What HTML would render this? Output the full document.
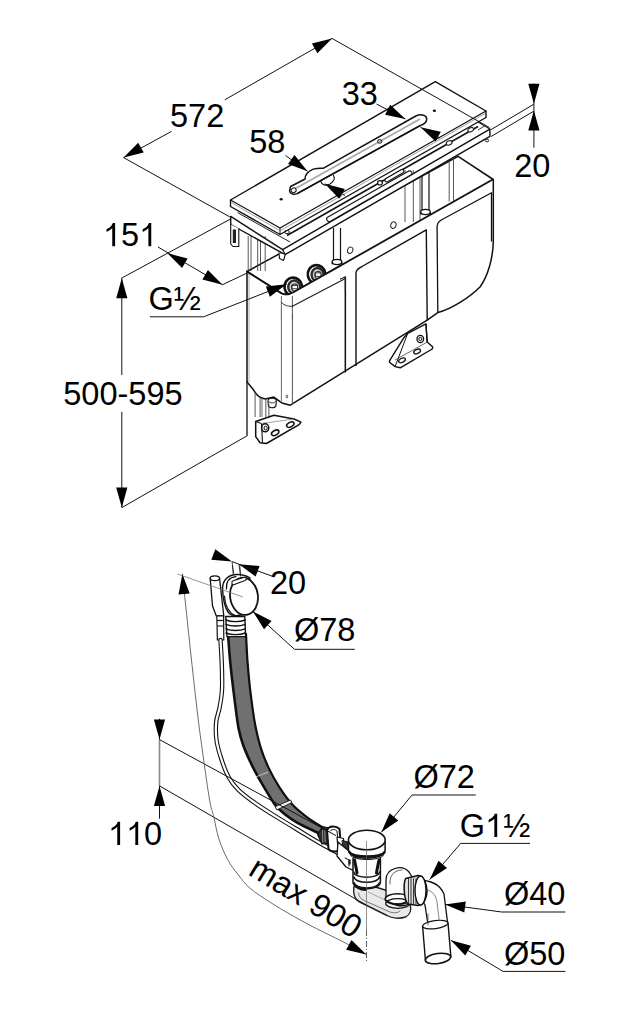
<!DOCTYPE html>
<html><head><meta charset="utf-8"><style>
html,body{margin:0;padding:0;background:#fff;}
svg{display:block;}
text{font-family:"Liberation Sans",sans-serif;fill:#000;}
</style></head><body>
<svg width="637" height="1024" viewBox="0 0 637 1024">
<rect width="637" height="1024" fill="#fff"/>
<path d="M247.0,271.5 L247.0,381.9 C249.0,384.5 252.5,388 254.5,391.3 C256,394 260,398 265.2,398.9 L271.4,397.6 L273.9,397.0 C276,398.5 279,401.5 282.7,403.3 L290.3,405.2 L427.2,320.1 L437.8,312.6 C452,309 470,297 480,287 C488,276 493,258 493.3,241.2 L493.3,179.5 L458.1,156.4 Z" fill="#fff" stroke="#111" stroke-width="1.5" stroke-linejoin="round" stroke-linecap="round" />
<line x1="293.0" y1="292.5" x2="492.7" y2="179.5" stroke="#111" stroke-width="1.8" />
<path d="M247.0,271.5 L281.0,293.0 C284,295 289,294.5 293.0,292.5" fill="none" stroke="#111" stroke-width="1.5" stroke-linejoin="round" stroke-linecap="round" />
<line x1="281.4" y1="300.0" x2="281.4" y2="401.0" stroke="#666" stroke-width="1.0" />
<line x1="292.4" y1="302.0" x2="292.4" y2="404.5" stroke="#555" stroke-width="1.0" />
<path d="M281.4,302.5 C284,305.5 289,306.8 292.4,306.3" fill="none" stroke="#333" stroke-width="1.0" stroke-linejoin="round" stroke-linecap="round" />
<path d="M292.8,304 C293,300 296,299.5 299,298.3 L345.4,276.8 L345.4,372.1" fill="none" stroke="#222" stroke-width="1.2" stroke-linejoin="round" stroke-linecap="round" />
<line x1="345.4" y1="276.8" x2="345.4" y2="372.1" stroke="#111" stroke-width="1.4" />
<path d="M356.0,365.4 L356.0,272.5 C356.5,269 359,268 362,266.5 L426.3,229.8 L427.2,320.1" fill="none" stroke="#111" stroke-width="1.4" stroke-linejoin="round" stroke-linecap="round" />
<path d="M437.8,312.6 L437.1,226 C437.5,222 440,220.6 444,218.5 L491.5,192.8 L491.5,241" fill="none" stroke="#111" stroke-width="1.3" stroke-linejoin="round" stroke-linecap="round" />
<path d="M268.0,400.5 C268,397.5 276,397.5 276.3,400.5 L276.0,405.5 C275,408.5 269,408.5 268.3,405.5 Z" fill="#fff" stroke="#111" stroke-width="1.1" stroke-linejoin="round" stroke-linecap="round" />
<path d="M268.6,401.5 C270,403.5 274.5,403.5 275.8,401.5" fill="none" stroke="#222" stroke-width="0.9" stroke-linejoin="round" stroke-linecap="round" />
<ellipse cx="286.9" cy="396.5" rx="0.8" ry="1.5" transform="rotate(0 286.9 396.5)" fill="none" stroke="#333" stroke-width="0.8"/>
<line x1="449.2" y1="158.0" x2="449.2" y2="201.5" stroke="#444" stroke-width="0.9" />
<line x1="453.5" y1="158.0" x2="453.5" y2="201.5" stroke="#444" stroke-width="0.9" />
<line x1="405.0" y1="170.0" x2="405.0" y2="222.0" stroke="#444" stroke-width="0.9" />
<line x1="413.3" y1="170.0" x2="413.3" y2="222.0" stroke="#444" stroke-width="0.9" />
<line x1="420.0" y1="170.0" x2="420.0" y2="222.0" stroke="#444" stroke-width="0.9" />
<ellipse cx="350.2" cy="250.2" rx="2.6" ry="3.3" transform="rotate(20 350.2 250.2)" fill="none" stroke="#222" stroke-width="1.0"/>
<ellipse cx="393.4" cy="225.1" rx="2.6" ry="3.3" transform="rotate(20 393.4 225.1)" fill="none" stroke="#222" stroke-width="1.0"/>
<line x1="248.2" y1="236.0" x2="248.2" y2="271.0" stroke="#444" stroke-width="0.9" />
<line x1="251.0" y1="236.0" x2="251.0" y2="271.0" stroke="#444" stroke-width="0.9" />
<line x1="257.7" y1="236.0" x2="257.7" y2="271.0" stroke="#444" stroke-width="0.9" />
<line x1="260.5" y1="236.0" x2="260.5" y2="271.0" stroke="#444" stroke-width="0.9" />
<line x1="265.2" y1="236.0" x2="265.2" y2="271.0" stroke="#444" stroke-width="0.9" />
<line x1="249.0" y1="272.5" x2="249.0" y2="383.0" stroke="#999" stroke-width="0.8" />
<line x1="247.0" y1="381.0" x2="247.0" y2="435.5" stroke="#111" stroke-width="1.3" />
<line x1="255.1" y1="392.0" x2="255.1" y2="417.0" stroke="#444" stroke-width="0.9" />
<line x1="260.1" y1="397.0" x2="260.1" y2="417.0" stroke="#444" stroke-width="0.9" />
<line x1="262.0" y1="398.0" x2="262.0" y2="417.0" stroke="#444" stroke-width="0.8" />
<line x1="265.8" y1="399.0" x2="265.8" y2="417.0" stroke="#444" stroke-width="0.9" />
<line x1="268.9" y1="404.0" x2="268.9" y2="417.0" stroke="#444" stroke-width="0.9" />
<line x1="333.5" y1="228.0" x2="333.5" y2="262.0" stroke="#111" stroke-width="1.2" />
<line x1="340.5" y1="228.0" x2="340.5" y2="262.0" stroke="#111" stroke-width="1.2" />
<ellipse cx="337.0" cy="262.0" rx="4.8" ry="2.6" transform="rotate(0 337.0 262.0)" fill="#fff" stroke="#111" stroke-width="1.3"/>
<line x1="332.2" y1="262.0" x2="332.2" y2="264.2" stroke="#111" stroke-width="1.2" />
<line x1="341.8" y1="262.0" x2="341.8" y2="264.2" stroke="#111" stroke-width="1.2" />
<line x1="422.0" y1="172.0" x2="422.0" y2="212.0" stroke="#111" stroke-width="1.2" />
<line x1="429.0" y1="172.0" x2="429.0" y2="212.0" stroke="#111" stroke-width="1.2" />
<ellipse cx="425.5" cy="212.0" rx="4.8" ry="2.6" transform="rotate(0 425.5 212.0)" fill="#fff" stroke="#111" stroke-width="1.3"/>
<line x1="420.7" y1="212.0" x2="420.7" y2="214.2" stroke="#111" stroke-width="1.2" />
<line x1="430.3" y1="212.0" x2="430.3" y2="214.2" stroke="#111" stroke-width="1.2" />
<ellipse cx="293.3" cy="287.0" rx="8.8" ry="9.4" transform="rotate(-10 293.3 287.0)" fill="#fff" stroke="#111" stroke-width="2.6"/>
<ellipse cx="294.3" cy="287.3" rx="6.0" ry="6.8" transform="rotate(-10 294.3 287.3)" fill="#dcdcdc" stroke="#2a2a2a" stroke-width="2.4"/>
<ellipse cx="294.6" cy="287.5" rx="3.2" ry="3.6" transform="rotate(-10 294.6 287.5)" fill="#fff" stroke="#333" stroke-width="1.0"/>
<rect x="292.1" y="285.4" width="5.5" height="3.4" fill="#fff" stroke="#222" stroke-width="0.9"/>
<ellipse cx="316.6" cy="274.5" rx="8.8" ry="9.4" transform="rotate(-10 316.6 274.5)" fill="#fff" stroke="#111" stroke-width="2.6"/>
<ellipse cx="317.6" cy="274.8" rx="6.0" ry="6.8" transform="rotate(-10 317.6 274.8)" fill="#dcdcdc" stroke="#2a2a2a" stroke-width="2.4"/>
<ellipse cx="317.9" cy="275.0" rx="3.2" ry="3.6" transform="rotate(-10 317.9 275.0)" fill="#fff" stroke="#333" stroke-width="1.0"/>
<rect x="315.4" y="272.9" width="5.5" height="3.4" fill="#fff" stroke="#222" stroke-width="0.9"/>
<path d="M280.0,294.5 C284,296.5 289,296 293.0,292.5 L340.0,266.0 L340.0,290.0 L281.0,320.0 Z" fill="#fff" stroke="none" stroke-width="0" stroke-linejoin="round" stroke-linecap="round" />
<path d="M247.0,271.5 L281.0,293.0 C284,295 289,294.5 293.0,292.5 L340.0,266.0" fill="none" stroke="#111" stroke-width="1.7" stroke-linejoin="round" stroke-linecap="round" />
<line x1="281.4" y1="296.0" x2="281.4" y2="320.0" stroke="#666" stroke-width="1.0" />
<line x1="292.4" y1="296.0" x2="292.4" y2="320.0" stroke="#555" stroke-width="1.0" />
<path d="M281.4,302.5 C284,305.5 289,306.8 292.4,306.3" fill="none" stroke="#333" stroke-width="1.0" stroke-linejoin="round" stroke-linecap="round" />
<path d="M292.4,306.3 L345.4,278.5 L345.4,290" fill="none" stroke="#222" stroke-width="1.2" stroke-linejoin="round" stroke-linecap="round" />
<polygon points="255.7,421.5 273.9,415.2 294.0,419.0 301.0,422.1 299.1,424.6 266.4,443.5 260.1,442.8 255.7,436.6" fill="#fff" stroke="#111" stroke-width="1.5" stroke-linejoin="round" stroke-linecap="round" />
<line x1="255.7" y1="421.5" x2="261.5" y2="423.5" stroke="#111" stroke-width="1.1" />
<line x1="261.5" y1="423.5" x2="262.5" y2="442.8" stroke="#111" stroke-width="1.1" />
<line x1="261.5" y1="423.5" x2="294.0" y2="419.0" stroke="#777" stroke-width="0.7" />
<ellipse cx="265.2" cy="427.8" rx="3.6" ry="4.0" transform="rotate(0 265.2 427.8)" fill="none" stroke="#111" stroke-width="1.5"/>
<ellipse cx="265.6" cy="428.0" rx="1.6" ry="1.9" transform="rotate(0 265.6 428.0)" fill="none" stroke="#111" stroke-width="1.0"/>
<ellipse cx="275.2" cy="432.8" rx="4.0" ry="2.3" transform="rotate(-28 275.2 432.8)" fill="none" stroke="#111" stroke-width="1.5"/>
<ellipse cx="290.3" cy="424.6" rx="4.0" ry="2.3" transform="rotate(-28 290.3 424.6)" fill="none" stroke="#111" stroke-width="1.5"/>
<polygon points="389.5,360.9 403.9,337.7 407.7,333.3 425.9,323.9 427.2,342.1 432.8,347.1 432.2,349.0 400.2,367.8 395.1,366.6 389.5,362.2" fill="#fff" stroke="#111" stroke-width="1.4" stroke-linejoin="round" stroke-linecap="round" />
<line x1="407.7" y1="333.3" x2="395.1" y2="366.6" stroke="#111" stroke-width="1.0" />
<line x1="427.2" y1="342.1" x2="395.1" y2="360.0" stroke="#444" stroke-width="0.8" />
<ellipse cx="420.3" cy="339.0" rx="3.3" ry="3.6" transform="rotate(0 420.3 339.0)" fill="none" stroke="#111" stroke-width="1.3"/>
<ellipse cx="420.3" cy="339.0" rx="1.5" ry="1.7" transform="rotate(0 420.3 339.0)" fill="none" stroke="#111" stroke-width="1.0"/>
<ellipse cx="417.1" cy="351.5" rx="3.6" ry="2.0" transform="rotate(-25 417.1 351.5)" fill="none" stroke="#111" stroke-width="1.3"/>
<ellipse cx="402.0" cy="360.3" rx="3.6" ry="2.0" transform="rotate(-25 402.0 360.3)" fill="none" stroke="#111" stroke-width="1.3"/>
<line x1="426.0" y1="323.9" x2="427.2" y2="342.0" stroke="#111" stroke-width="1.2" />
<path d="M230.7,216.4 L282.6,249.6 L489.9,129.1 L489.9,136.3 L285.1,254.6 L230.7,224.5 Z" fill="#fff" stroke="#111" stroke-width="1.4" stroke-linejoin="round" stroke-linecap="round" />
<line x1="282.6" y1="249.6" x2="285.1" y2="254.6" stroke="#111" stroke-width="1.2" />
<line x1="237.6" y1="212.6" x2="290.0" y2="242.0" stroke="#222" stroke-width="1.0" />
<line x1="287.0" y1="235.5" x2="478.0" y2="126.5" stroke="#111" stroke-width="1.5" />
<polyline points="489.9,129.1 476.0,120.8" fill="none" stroke="#111" stroke-width="1.1" stroke-linejoin="round" stroke-linecap="round" />
<line x1="484.9" y1="125.9" x2="478.0" y2="129.9" stroke="#222" stroke-width="0.9" />
<ellipse cx="470.7" cy="129.7" rx="3.0" ry="2.0" transform="rotate(-25 470.7 129.7)" fill="#fff" stroke="#222" stroke-width="1.1"/>
<ellipse cx="449.2" cy="142.9" rx="3.0" ry="2.0" transform="rotate(-25 449.2 142.9)" fill="#fff" stroke="#222" stroke-width="1.1"/>
<path d="M328.0,216.9 L407.9,171.4 C411,169.8 413.5,173.5 410.8,175.0 L330.5,221.2 C327.5,222.8 325.0,218.7 328.0,216.9 Z" fill="#fff" stroke="#111" stroke-width="1.1" stroke-linejoin="round" stroke-linecap="round" />
<ellipse cx="380.0" cy="182.8" rx="2.4" ry="2.2" transform="rotate(0 380.0 182.8)" fill="#fff" stroke="#111" stroke-width="1.2"/>
<path d="M386.0,178.5 L401.0,169.8 C403.5,168.5 405,171.5 403.0,172.8 L388.0,181.5 C385.5,183 383.5,180 386.0,178.5 Z" fill="#fff" stroke="#111" stroke-width="1.1" stroke-linejoin="round" stroke-linecap="round" />
<polyline points="279.0,253.0 279.5,258.5 283.5,260.5 285.2,255.0" fill="#fff" stroke="#111" stroke-width="1.1" stroke-linejoin="round" stroke-linecap="round" />
<polyline points="230.7,224.5 230.7,244.0 233.0,246.5 238.8,246.5 238.8,228.5" fill="#fff" stroke="#111" stroke-width="1.1" stroke-linejoin="round" stroke-linecap="round" />
<rect x="232.8" y="229.5" width="3.2" height="13.5" fill="#222"/>
<ellipse cx="487.0" cy="140.5" rx="1.8" ry="1.3" transform="rotate(0 487.0 140.5)" fill="none" stroke="#222" stroke-width="1.0"/>
<path d="M230.5,200.0 L435.3,81.6 L486.0,111.0 L486.0,117.5 L280.0,234.5 L230.5,206.5 Z" fill="#fff" stroke="#111" stroke-width="1.4" stroke-linejoin="round" stroke-linecap="round" />
<polyline points="230.5,200.0 280.0,228.0 486.0,111.0" fill="none" stroke="#111" stroke-width="1.2" stroke-linejoin="round" stroke-linecap="round" />
<line x1="280.0" y1="228.0" x2="280.0" y2="234.5" stroke="#111" stroke-width="1.0" />
<polyline points="231.5,202.6 280.0,230.8 485.0,113.6" fill="none" stroke="#777" stroke-width="0.7" stroke-linejoin="round" stroke-linecap="round" />
<ellipse cx="281.2" cy="199.3" rx="1.6" ry="1.3" transform="rotate(0 281.2 199.3)" fill="#111" stroke="none" stroke-width="0"/>
<ellipse cx="434.4" cy="110.8" rx="1.6" ry="1.3" transform="rotate(0 434.4 110.8)" fill="#111" stroke="none" stroke-width="0"/>
<ellipse cx="287.0" cy="232.0" rx="2.5" ry="1.6" transform="rotate(0 287.0 232.0)" fill="none" stroke="#222" stroke-width="1.0"/>
<path d="M321.0,181.5 C321.5,185 326,186 330,184 C334,181.5 335,178 333.5,175.5" fill="#fff" stroke="#111" stroke-width="1.2" stroke-linejoin="round" stroke-linecap="round" />
<path d="M290.6,186.5 L305.2,179.0 C304.5,175.5 308,171 313.2,169.1 C316,168.3 320,168.1 323.6,168.2 L415.8,116.0 C421,113.5 427.5,115 426.6,120.0 C426,123 423.5,124.5 420.5,125.4 L297.2,193.6 C293,195.5 289,193 289.7,190.0 C290,188.5 290.3,187.2 290.6,186.5 Z" fill="#fff" stroke="#111" stroke-width="1.5" stroke-linejoin="round" stroke-linecap="round" />
<line x1="296.0" y1="188.2" x2="420.0" y2="119.0" stroke="#aaa" stroke-width="1.8" />
<line x1="297.2" y1="193.6" x2="420.5" y2="125.4" stroke="#111" stroke-width="1.6" />
<ellipse cx="293.6" cy="190.3" rx="2.6" ry="2.3" transform="rotate(-30 293.6 190.3)" fill="#fff" stroke="#111" stroke-width="1.0"/>
<ellipse cx="379.7" cy="141.4" rx="2.2" ry="1.8" transform="rotate(0 379.7 141.4)" fill="none" stroke="#111" stroke-width="1.0"/>
<line x1="123.6" y1="157.6" x2="171.5" y2="131.4" stroke="#111" stroke-width="1.0" />
<line x1="224.8" y1="99.8" x2="332.0" y2="38.4" stroke="#111" stroke-width="1.0" />
<polygon points="123.6,157.6 143.7,152.5 138.2,142.8" fill="#000"/>
<polygon points="332.0,38.4 311.9,43.5 317.4,53.2" fill="#000"/>
<text x="170.0" y="126.5" font-size="32.5" text-anchor="start">572</text>
<line x1="123.6" y1="157.6" x2="229.8" y2="216.9" stroke="#111" stroke-width="1.0" />
<line x1="332.0" y1="38.4" x2="489.5" y2="127.6" stroke="#111" stroke-width="1.0" />
<text x="341.8" y="105.1" font-size="32.5" text-anchor="start">33</text>
<line x1="376.5" y1="104.0" x2="405.4" y2="119.0" stroke="#111" stroke-width="1.0" />
<polygon points="405.4,119.0 390.2,104.8 385.1,114.8" fill="#000"/>
<polygon points="420.5,127.3 435.6,141.6 440.8,131.7" fill="#000"/>
<line x1="420.5" y1="127.3" x2="440.0" y2="138.0" stroke="#111" stroke-width="1.0" />
<text x="249.3" y="153.4" font-size="32.5" text-anchor="start">58</text>
<line x1="285.5" y1="155.5" x2="307.5" y2="171.2" stroke="#111" stroke-width="1.0" />
<polygon points="307.5,171.2 294.5,155.0 288.0,164.1" fill="#000"/>
<polygon points="324.8,183.8 339.2,198.7 344.9,189.1" fill="#000"/>
<line x1="324.8" y1="183.8" x2="345.0" y2="195.5" stroke="#111" stroke-width="1.0" />
<line x1="533.9" y1="83.5" x2="533.9" y2="110.6" stroke="#111" stroke-width="1.0" />
<line x1="533.9" y1="110.6" x2="533.9" y2="147.7" stroke="#111" stroke-width="1.0" />
<polygon points="533.9,103.7 539.5,83.7 528.3,83.7" fill="#000"/>
<polygon points="533.9,110.6 528.3,130.6 539.5,130.6" fill="#000"/>
<text x="514.2" y="176.7" font-size="32.5" text-anchor="start">20</text>
<line x1="533.9" y1="104.2" x2="491.1" y2="129.6" stroke="#111" stroke-width="1.0" />
<line x1="533.9" y1="111.1" x2="491.1" y2="136.5" stroke="#111" stroke-width="1.0" />
<polygon points="115.11,246.30 112.26,246.30 112.26,228.08 110.41,229.76 106.54,232.00 106.54,229.24 109.66,227.45 111.61,225.50 112.75,223.03 115.11,223.03" fill="#000"/>
<text x="121.1" y="246.3" font-size="32.5">5</text>
<polygon points="151.25,246.30 148.40,246.30 148.40,228.08 146.55,229.76 142.68,232.00 142.68,229.24 145.80,227.45 147.75,225.50 148.89,223.03 151.25,223.03" fill="#000"/>
<line x1="158.0" y1="247.0" x2="222.5" y2="284.7" stroke="#111" stroke-width="1.0" />
<polygon points="167.5,253.3 182.1,268.1 187.6,258.4" fill="#000"/>
<polygon points="222.5,284.7 207.9,269.9 202.4,279.6" fill="#000"/>
<line x1="230.5" y1="219.0" x2="121.5" y2="278.2" stroke="#111" stroke-width="1.0" />
<line x1="222.5" y1="284.7" x2="247.6" y2="272.8" stroke="#111" stroke-width="1.0" />
<text x="148.5" y="310.0" font-size="32.5" text-anchor="start">G½</text>
<line x1="150.0" y1="316.8" x2="203.6" y2="316.8" stroke="#111" stroke-width="1.0" />
<line x1="203.6" y1="316.8" x2="286.5" y2="284.3" stroke="#111" stroke-width="1.0" />
<polygon points="286.5,284.3 265.8,286.4 269.9,296.8" fill="#000"/>
<line x1="121.8" y1="278.2" x2="121.8" y2="375.0" stroke="#111" stroke-width="1.0" />
<line x1="121.8" y1="411.8" x2="121.8" y2="507.6" stroke="#111" stroke-width="1.0" />
<polygon points="121.8,278.2 116.2,298.2 127.4,298.2" fill="#000"/>
<polygon points="121.8,507.6 127.4,487.6 116.2,487.6" fill="#000"/>
<text x="63.3" y="405.0" font-size="32.5" text-anchor="start">500-595</text>
<line x1="121.8" y1="507.6" x2="247.6" y2="435.5" stroke="#111" stroke-width="1.0" />
<path d="M228.0,634.0 C228.4,638.8 229.3,652.8 230.3,662.8 C231.3,672.8 232.5,683.3 233.9,694.2 C235.3,705.1 236.9,719.4 238.5,728.0 C240.1,736.6 241.1,739.4 243.5,746.0 C245.9,752.6 249.6,760.5 253.0,767.4 C256.4,774.2 260.3,780.9 264.0,787.1 C267.7,793.3 271.6,800.2 275.0,804.7 C278.4,809.2 280.8,811.0 284.5,814.0 C288.2,817.0 291.8,819.6 297.5,822.8 C303.2,826.0 315.3,831.5 318.9,833.3 L323.3,827.8 C320.7,826.1 313.0,821.8 307.9,817.9 C302.8,814.0 297.3,809.8 292.5,804.7 C287.7,799.6 283.3,793.3 279.3,787.1 C275.3,780.9 271.5,774.0 268.4,767.4 C265.3,760.8 262.9,754.7 260.7,747.6 C258.5,740.5 256.9,733.9 255.2,725.0 C253.5,716.1 252.0,704.6 250.7,694.2 C249.4,683.8 248.4,672.8 247.6,662.8 C246.8,652.8 246.3,638.8 246.0,634.0 Z" fill="#707070" stroke="#111" stroke-width="1.0" stroke-linejoin="round" stroke-linecap="round" />
<path d="M228.0,634.0 C228.4,638.8 229.3,652.8 230.3,662.8 C231.3,672.8 232.5,683.3 233.9,694.2 C235.3,705.1 236.9,719.4 238.5,728.0 C240.1,736.6 241.1,739.4 243.5,746.0 C245.9,752.6 249.6,760.5 253.0,767.4 C256.4,774.2 260.3,780.9 264.0,787.1 C267.7,793.3 271.6,800.2 275.0,804.7 C278.4,809.2 280.8,811.0 284.5,814.0 C288.2,817.0 291.8,819.6 297.5,822.8 C303.2,826.0 315.3,831.5 318.9,833.3" fill="none" stroke="#111" stroke-width="2.6" stroke-linejoin="round" stroke-linecap="round" />
<path d="M246.0,634.0 C246.3,638.8 246.8,652.8 247.6,662.8 C248.4,672.8 249.4,683.8 250.7,694.2 C252.0,704.6 253.5,716.1 255.2,725.0 C256.9,733.9 258.5,740.5 260.7,747.6 C262.9,754.7 265.3,760.8 268.4,767.4 C271.5,774.0 275.3,780.9 279.3,787.1 C283.3,793.3 287.7,799.6 292.5,804.7 C297.3,809.8 302.8,814.0 307.9,817.9 C313.0,821.8 320.7,826.1 323.3,827.8" fill="none" stroke="#111" stroke-width="2.2" stroke-linejoin="round" stroke-linecap="round" />
<path d="M237.5,640.0 C237.8,646.7 238.4,665.8 239.5,680.0 C240.6,694.2 241.9,712.3 244.0,725.0 C246.1,737.7 248.3,746.5 252.0,756.0 C255.7,765.5 260.7,773.7 266.0,782.0 C271.3,790.3 277.5,799.3 284.0,806.0 C290.5,812.7 301.5,819.3 305.0,822.0" fill="none" stroke="#6e6e6e" stroke-width="0.6" stroke-linejoin="round" stroke-linecap="round" />
<path d="M275.5,806.5 L290.5,800.0 L291.8,802.6 L277.2,809.8 Z" fill="#f2f2f2" stroke="#111" stroke-width="0.9" stroke-linejoin="round" stroke-linecap="round" />
<line x1="255.6" y1="777.0" x2="268.0" y2="772.2" stroke="#cfcfcf" stroke-width="0.9" />
<path d="M225.7,616.5 L244.8,616.5 L245.6,636.6 L227.0,636.6 Z" fill="#fff" stroke="#111" stroke-width="1.4" stroke-linejoin="round" stroke-linecap="round" />
<path d="M226.0,620.0 C231,622.2 240,622.2 245.2,620.0" fill="none" stroke="#111" stroke-width="1.4" stroke-linejoin="round" stroke-linecap="round" />
<path d="M226.0,624.4 C231,626.6 240,626.6 245.2,624.4" fill="none" stroke="#111" stroke-width="1.4" stroke-linejoin="round" stroke-linecap="round" />
<path d="M226.0,628.8 C231,631.0 240,631.0 245.2,628.8" fill="none" stroke="#111" stroke-width="1.4" stroke-linejoin="round" stroke-linecap="round" />
<path d="M226.0,633.0 C231,635.2 240,635.2 245.2,633.0" fill="none" stroke="#111" stroke-width="1.4" stroke-linejoin="round" stroke-linecap="round" />
<path d="M210.2,578.5 L212.5,606 L216.3,616 L223.8,616 L222.0,600 L219.6,578.5" fill="#fff" stroke="#111" stroke-width="1.3" stroke-linejoin="round" stroke-linecap="round" />
<ellipse cx="214.9" cy="578.3" rx="4.7" ry="2.4" transform="rotate(0 214.9 578.3)" fill="#fff" stroke="#111" stroke-width="1.3"/>
<path d="M216.8,615.8 L217.4,640 L223.8,640 L223.6,615.8 Z" fill="#fff" stroke="#111" stroke-width="1.2" stroke-linejoin="round" stroke-linecap="round" />
<line x1="217.0" y1="620.5" x2="223.7" y2="620.5" stroke="#111" stroke-width="1.2" />
<line x1="217.2" y1="626.0" x2="223.7" y2="626.0" stroke="#111" stroke-width="1.0" />
<path d="M222.6,590 C222,580 228,575 236,574.5 C242,574.2 247,576 250,578 L247,612 C240,617 232,617 228,612 C224,606 223,598 222.6,590 Z" fill="#fff" stroke="#111" stroke-width="1.4" stroke-linejoin="round" stroke-linecap="round" />
<path d="M226.5,589 C226,581 230,577.2 236,576.7" fill="none" stroke="#111" stroke-width="1.2" stroke-linejoin="round" stroke-linecap="round" />
<path d="M224.5,596 C225,606 229,613 236,616" fill="none" stroke="#111" stroke-width="1.1" stroke-linejoin="round" stroke-linecap="round" />
<ellipse cx="244.0" cy="596.3" rx="13.9" ry="18.7" transform="rotate(-8 244.0 596.3)" fill="#fff" stroke="#111" stroke-width="1.8"/>
<path d="M233.2,580.8 L243.8,577.4 C246.2,576.8 247.2,579.6 245.0,580.6 L234.4,584.6 C231.8,585.4 230.8,581.8 233.2,580.8 Z" fill="#fff" stroke="#111" stroke-width="1.1" stroke-linejoin="round" stroke-linecap="round" />
<line x1="232.3" y1="565.0" x2="233.2" y2="574.4" stroke="#333" stroke-width="0.8" />
<line x1="239.8" y1="565.0" x2="240.8" y2="576.3" stroke="#333" stroke-width="0.8" />
<path d="M220.5,640.0 C220.7,644.2 221.6,656.7 221.8,665.0 C222.1,673.3 222.4,682.8 222.0,690.0 C221.6,697.2 220.5,702.7 219.5,708.0 C218.5,713.3 216.7,716.7 216.2,722.0 C215.7,727.3 215.7,734.0 216.5,740.0 C217.3,746.0 219.0,751.8 221.0,758.0 C223.0,764.2 225.6,771.7 228.5,777.0 C231.4,782.3 234.1,785.7 238.5,790.0 C242.9,794.3 248.9,798.7 255.0,803.0 C261.1,807.3 268.1,811.7 275.0,816.0 C281.9,820.3 289.3,824.7 296.5,829.0 C303.7,833.3 311.2,838.1 318.0,842.0 C324.8,845.9 332.5,850.0 337.0,852.5 C341.5,855.0 343.7,856.2 345.0,857.0" fill="none" stroke="#111" stroke-width="4.4" stroke-linejoin="round" stroke-linecap="round" />
<path d="M220.5,640.0 C220.7,644.2 221.6,656.7 221.8,665.0 C222.1,673.3 222.4,682.8 222.0,690.0 C221.6,697.2 220.5,702.7 219.5,708.0 C218.5,713.3 216.7,716.7 216.2,722.0 C215.7,727.3 215.7,734.0 216.5,740.0 C217.3,746.0 219.0,751.8 221.0,758.0 C223.0,764.2 225.6,771.7 228.5,777.0 C231.4,782.3 234.1,785.7 238.5,790.0 C242.9,794.3 248.9,798.7 255.0,803.0 C261.1,807.3 268.1,811.7 275.0,816.0 C281.9,820.3 289.3,824.7 296.5,829.0 C303.7,833.3 311.2,838.1 318.0,842.0 C324.8,845.9 332.5,850.0 337.0,852.5 C341.5,855.0 343.7,856.2 345.0,857.0" fill="none" stroke="#fff" stroke-width="2.2" stroke-linejoin="round" stroke-linecap="round" />
<path d="M317.5,834.5 L322.5,826.5 L329.0,828.0 L330.0,843.0 L322.0,844.0 Z" fill="#2a2a2a" stroke="#111" stroke-width="1.2" stroke-linejoin="round" stroke-linecap="round" />
<line x1="322.5" y1="830.0" x2="322.9" y2="842.5" stroke="#aaa" stroke-width="0.8" />
<line x1="324.8" y1="830.0" x2="325.2" y2="842.5" stroke="#aaa" stroke-width="0.8" />
<line x1="327.1" y1="830.0" x2="327.5" y2="842.5" stroke="#aaa" stroke-width="0.8" />
<path d="M327.0,830.0 C329,825.5 336,825.5 339.5,829.0 L341.0,848.0 C338.5,852.5 331,852.5 328.5,849.0 Z" fill="#fff" stroke="#111" stroke-width="2.0" stroke-linejoin="round" stroke-linecap="round" />
<path d="M330.0,831.0 C332,829 335,829 337,831 L338.5,847.5" fill="none" stroke="#111" stroke-width="1.0" stroke-linejoin="round" stroke-linecap="round" />
<path d="M337.0,837.0 L343.5,838.5 L344.0,850.0 L338.0,849.0 Z" fill="#fff" stroke="#111" stroke-width="1.2" stroke-linejoin="round" stroke-linecap="round" />
<path d="M342.5,840.5 L348.0,842.0 L349.0,851.5 L343.5,851.0 Z" fill="#333" stroke="#111" stroke-width="1.0" stroke-linejoin="round" stroke-linecap="round" />
<path d="M338,842 L350,852 L356.1,858 L356.1,871.8 L346,867 L337,856 Z" fill="#fff" stroke="#111" stroke-width="1.3" stroke-linejoin="round" stroke-linecap="round" />
<path d="M345,858 L349,860 L349,866" fill="none" stroke="#111" stroke-width="1.0" stroke-linejoin="round" stroke-linecap="round" />
<rect x="348.6" y="859.5" width="2" height="5" fill="#111"/>
<path d="M353.8,887 C353.2,893 354.5,899 358.8,901.5 L387.0,915.5 C392,918.5 400,919 405.5,917 C410,915 411.5,910 410.3,905 L404,896 L366,884 Z" fill="#e9e9e9" stroke="#222" stroke-width="1.4" stroke-linejoin="round" stroke-linecap="round" />
<path d="M358.5,893 C359,897 361,899 364,900.5 L390,912 C394,913.5 398,913 400,911" fill="none" stroke="#666" stroke-width="0.9" stroke-linejoin="round" stroke-linecap="round" />
<line x1="368.0" y1="892.0" x2="396.0" y2="905.0" stroke="#888" stroke-width="0.7" />
<path d="M353.0,858.5 L353.0,882 C353,891 380.4,891 380.4,882 L380.4,858.5" fill="#fff" stroke="#111" stroke-width="1.5" stroke-linejoin="round" stroke-linecap="round" />
<path d="M354.0,872 C354,879 379.4,879 379.4,872" fill="none" stroke="#111" stroke-width="1.4" stroke-linejoin="round" stroke-linecap="round" />
<path d="M354.0,877 C355,884 378.4,884 379.4,877" fill="none" stroke="#111" stroke-width="1.6" stroke-linejoin="round" stroke-linecap="round" />
<path d="M354.0,882.5 C356,889.5 377.4,889.5 379.4,882.5" fill="none" stroke="#111" stroke-width="1.2" stroke-linejoin="round" stroke-linecap="round" />
<path d="M354.5,860 C355.5,865 356.5,869 357.0,873" fill="none" stroke="#111" stroke-width="3.0" stroke-linejoin="round" stroke-linecap="round" />
<path d="M379.0,860 C378.0,865 377.0,869 376.5,873" fill="none" stroke="#111" stroke-width="3.0" stroke-linejoin="round" stroke-linecap="round" />
<path d="M354.0,884 C356,888 360,889.5 366,890" fill="none" stroke="#111" stroke-width="2.2" stroke-linejoin="round" stroke-linecap="round" />
<path d="M348.5,842 L348.5,850 C348.5,861 385.1,861 385.1,850 L385.1,842" fill="#fff" stroke="#111" stroke-width="1.5" stroke-linejoin="round" stroke-linecap="round" />
<path d="M349.5,852 C352,858 382,858 384.5,852" fill="none" stroke="#111" stroke-width="2.4" stroke-linejoin="round" stroke-linecap="round" />
<path d="M350.5,855.5 C354,861 380,861 383.5,855.5" fill="none" stroke="#111" stroke-width="1.0" stroke-linejoin="round" stroke-linecap="round" />
<ellipse cx="366.8" cy="840.0" rx="18.4" ry="9.8" transform="rotate(0 366.8 840.0)" fill="#fff" stroke="#111" stroke-width="1.6"/>
<path d="M386,897 L386,880 C386,868 402,864 409,872 L414,880 L410,903 C404,908 390,906 386,897 Z" fill="#fff" stroke="#111" stroke-width="1.3" stroke-linejoin="round" stroke-linecap="round" />
<ellipse cx="397.7" cy="899.0" rx="12.5" ry="5.2" transform="rotate(0 397.7 899.0)" fill="#fff" stroke="#111" stroke-width="1.6"/>
<ellipse cx="397.7" cy="903.5" rx="12.0" ry="4.8" transform="rotate(0 397.7 903.5)" fill="none" stroke="#111" stroke-width="1.2"/>
<path d="M387,900.5 C392,905 402,905 407,901" fill="none" stroke="#111" stroke-width="1.2" stroke-linejoin="round" stroke-linecap="round" />
<path d="M390,884 C389,875 395,870 402,870" fill="none" stroke="#555" stroke-width="0.9" stroke-linejoin="round" stroke-linecap="round" />
<path d="M417,880 C430,880 440,884 444,894 L447.5,922 L428,925 L425,905 C423,900 420,901 417,901 Z" fill="#fff" stroke="#111" stroke-width="1.3" stroke-linejoin="round" stroke-linecap="round" />
<path d="M421,889 C432,889 436,895 437,902 L439.5,923" fill="none" stroke="#666" stroke-width="0.8" stroke-linejoin="round" stroke-linecap="round" />
<path d="M405.6,878.5 L418,875.5 C424,876 427,884 427,891 C427,898 424,905 418,905.5 L408,904 C404,900 403,884 405.6,878.5 Z" fill="#ddd" stroke="#111" stroke-width="1.5" stroke-linejoin="round" stroke-linecap="round" />
<line x1="408.5" y1="878.3" x2="408.5" y2="904.2" stroke="#222" stroke-width="0.9" />
<line x1="411.0" y1="878.3" x2="411.0" y2="904.2" stroke="#222" stroke-width="0.9" />
<line x1="413.5" y1="878.3" x2="413.5" y2="904.2" stroke="#222" stroke-width="0.9" />
<line x1="416.0" y1="878.3" x2="416.0" y2="904.2" stroke="#222" stroke-width="0.9" />
<ellipse cx="420.5" cy="890.5" rx="5.5" ry="14.5" transform="rotate(0 420.5 890.5)" fill="#fff" stroke="#111" stroke-width="1.4"/>
<path d="M422.6,926.2 L448.0,923.0 L450.9,957.0 L425.4,960.0 Z" fill="#fff" stroke="#111" stroke-width="1.4" stroke-linejoin="round" stroke-linecap="round" />
<ellipse cx="438.0" cy="958.5" rx="12.8" ry="5.0" transform="rotate(-8 438.0 958.5)" fill="#fff" stroke="#111" stroke-width="1.5"/>
<ellipse cx="435.3" cy="924.6" rx="12.8" ry="4.0" transform="rotate(-8 435.3 924.6)" fill="#fff" stroke="#111" stroke-width="1.2"/>
<path d="M428,914 L428,925" fill="none" stroke="#444" stroke-width="0.8" stroke-linejoin="round" stroke-linecap="round" />
<line x1="232.0" y1="561.6" x2="238.9" y2="564.2" stroke="#111" stroke-width="1.0" />
<polygon points="232.0,561.6 215.3,549.3 211.3,559.7" fill="#000"/>
<polygon points="238.9,564.2 255.6,576.6 259.6,566.1" fill="#000"/>
<line x1="238.9" y1="564.2" x2="272.5" y2="576.3" stroke="#111" stroke-width="1.0" />
<line x1="232.0" y1="561.6" x2="233.7" y2="573.7" stroke="#111" stroke-width="0.8" />
<line x1="238.9" y1="564.2" x2="240.6" y2="576.3" stroke="#111" stroke-width="0.8" />
<text x="270.0" y="593.8" font-size="32.5" text-anchor="start">20</text>
<text x="294.0" y="641.4" font-size="32.5" text-anchor="start">Ø78</text>
<line x1="294.5" y1="649.3" x2="354.8" y2="649.3" stroke="#111" stroke-width="1.0" />
<line x1="294.5" y1="649.3" x2="253.0" y2="611.6" stroke="#111" stroke-width="1.0" />
<polygon points="253.0,611.6 264.0,629.2 271.6,620.9" fill="#000"/>
<line x1="159.5" y1="718.8" x2="159.5" y2="739.6" stroke="#111" stroke-width="1.0" />
<line x1="159.5" y1="785.9" x2="159.5" y2="818.7" stroke="#111" stroke-width="1.0" />
<line x1="159.5" y1="739.6" x2="159.5" y2="785.9" stroke="#888" stroke-width="1.6" />
<polygon points="159.5,739.6 165.1,719.6 153.9,719.6" fill="#000"/>
<polygon points="159.5,785.9 153.9,805.9 165.1,805.9" fill="#000"/>
<polygon points="120.11,845.00 117.26,845.00 117.26,826.78 115.41,828.46 111.54,830.70 111.54,827.94 114.66,826.15 116.61,824.20 117.75,821.73 120.11,821.73" fill="#000"/>
<polygon points="138.18,845.00 135.33,845.00 135.33,826.78 133.48,828.46 129.61,830.70 129.61,827.94 132.73,826.15 134.68,824.20 135.82,821.73 138.18,821.73" fill="#000"/>
<text x="144.1" y="845.0" font-size="32.5">0</text>
<line x1="159.5" y1="739.6" x2="336.0" y2="835.6" stroke="#111" stroke-width="1.0" />
<line x1="159.5" y1="785.9" x2="366.0" y2="905.0" stroke="#111" stroke-width="1.0" />
<path d="M182.4,574.1 C183.5,584.6 186.6,614.4 189.0,637.0 C191.4,659.6 194.8,690.3 197.1,710.0 C199.4,729.7 200.9,740.0 203.0,755.0 C205.1,770.0 207.8,789.9 209.6,800.0 C211.3,810.1 211.9,809.2 213.5,815.7 C215.1,822.2 216.6,831.9 219.0,839.2 C221.4,846.5 224.5,853.8 227.7,859.7 C230.9,865.6 234.3,869.8 238.0,874.5 C241.7,879.2 244.6,883.6 250.0,888.2 C255.4,892.9 263.6,898.0 270.4,902.4 C277.2,906.8 284.0,910.8 290.8,914.7 C297.6,918.6 304.4,922.3 311.2,925.9 C318.0,929.5 325.8,933.2 331.6,936.1 C337.4,939.0 340.1,940.2 345.9,943.3 C351.7,946.4 362.9,952.6 366.3,954.5" fill="none" stroke="#6a6a6a" stroke-width="1.0" stroke-linejoin="round" stroke-linecap="round" />
<polygon points="182.4,574.1 178.5,594.5 189.7,593.6" fill="#000"/>
<polygon points="366.3,954.5 351.5,940.0 346.1,949.8" fill="#000"/>
<text x="247.0" y="874.0" font-size="32.5" text-anchor="start" transform="rotate(31.5 247.0 874.0)">max 900</text>
<line x1="366.5" y1="841.0" x2="366.5" y2="930.0" stroke="#666" stroke-width="0.7" />
<line x1="366.5" y1="930.0" x2="366.5" y2="962.0" stroke="#333" stroke-width="0.8" stroke-dasharray="6,2,1,2"/>
<line x1="177.5" y1="574.0" x2="243.0" y2="597.0" stroke="#666" stroke-width="0.7" />
<text x="413.5" y="787.6" font-size="32.5" text-anchor="start">Ø72</text>
<line x1="412.0" y1="795.0" x2="475.8" y2="795.0" stroke="#111" stroke-width="1.0" />
<line x1="412.0" y1="795.0" x2="381.3" y2="832.3" stroke="#111" stroke-width="1.0" />
<polygon points="381.3,832.3 398.3,820.4 389.7,813.3" fill="#000"/>
<text x="459.8" y="836.9" font-size="32.5">G</text>
<polygon points="497.19,836.90 494.35,836.90 494.35,818.68 492.50,820.36 488.63,822.60 488.63,819.84 491.75,818.05 493.70,816.10 494.84,813.63 497.19,813.63" fill="#000"/>
<text x="503.2" y="836.9" font-size="32.5">½</text>
<line x1="460.7" y1="843.4" x2="530.0" y2="843.4" stroke="#111" stroke-width="1.0" />
<line x1="460.7" y1="843.4" x2="429.7" y2="879.6" stroke="#111" stroke-width="1.0" />
<polygon points="429.7,879.6 447.0,868.1 438.5,860.8" fill="#000"/>
<text x="504.0" y="905.2" font-size="32.5" text-anchor="start">Ø40</text>
<line x1="501.7" y1="912.0" x2="565.3" y2="912.0" stroke="#111" stroke-width="1.0" />
<line x1="501.7" y1="912.0" x2="445.2" y2="904.4" stroke="#111" stroke-width="1.0" />
<polygon points="445.2,904.4 464.3,912.6 465.8,901.5" fill="#000"/>
<text x="504.0" y="964.8" font-size="32.5" text-anchor="start">Ø50</text>
<line x1="503.0" y1="971.4" x2="565.3" y2="971.4" stroke="#111" stroke-width="1.0" />
<line x1="503.0" y1="971.4" x2="450.9" y2="940.3" stroke="#111" stroke-width="1.0" />
<polygon points="450.9,940.3 465.2,955.4 470.9,945.7" fill="#000"/>
</svg></body></html>
